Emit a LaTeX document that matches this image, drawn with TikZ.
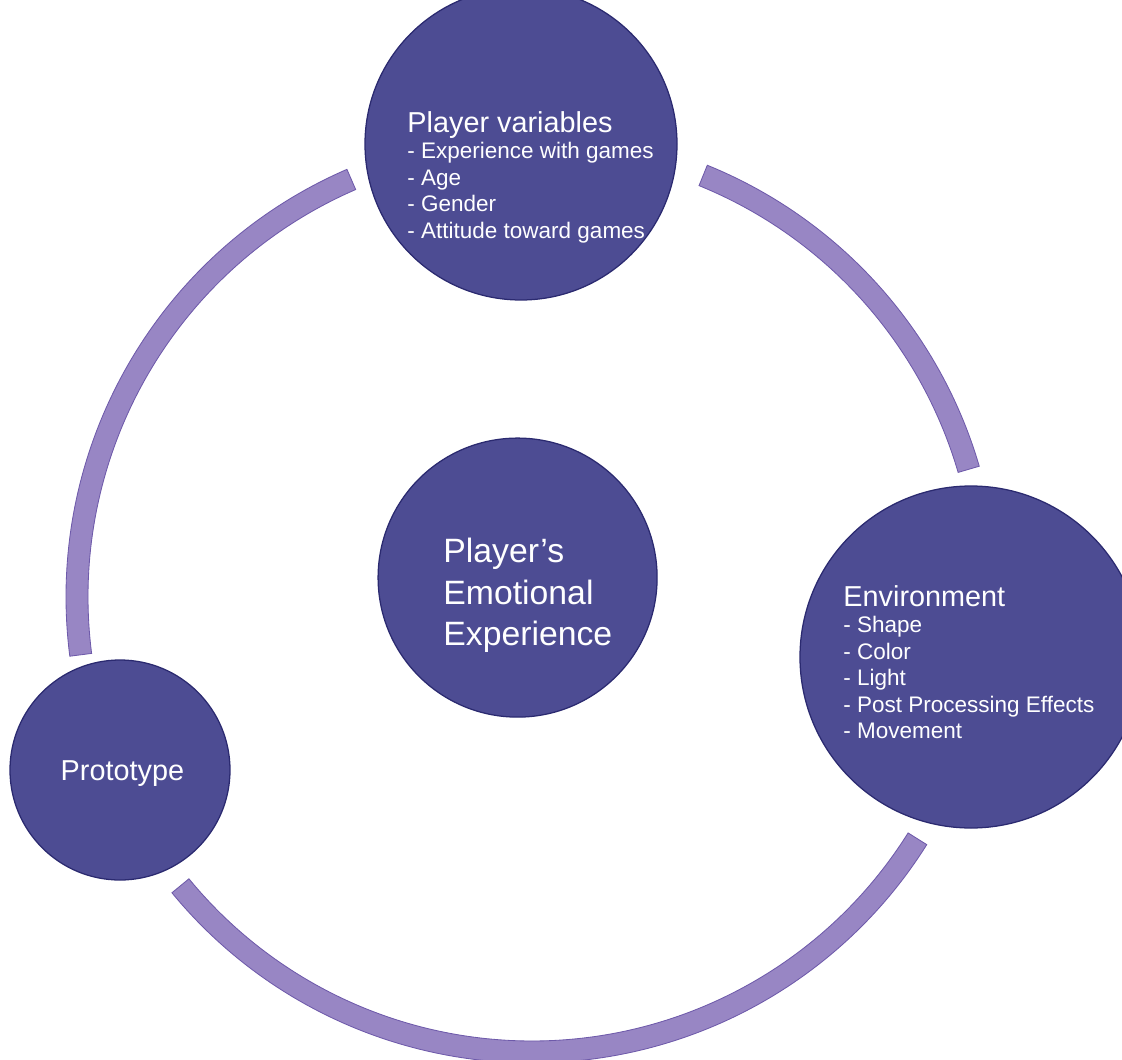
\documentclass[tikz,border=0pt]{standalone}
\usepackage{fontspec}
\setmainfont{Liberation Sans}
\usetikzlibrary{calc}
\definecolor{bubblefill}{HTML}{4D4C93}
\definecolor{bubbleline}{HTML}{2B2A70}
\definecolor{ringfill}{HTML}{9886C4}
\definecolor{ringline}{HTML}{6E5AAA}
\newcommand{\bubblehead}{\fontsize{20.5}{18.8}\selectfont}
\tikzset{
    bubble/.style={circle, fill=bubblefill, draw=bubbleline, line width=0.9pt, inner sep=0pt},
    bubbletext/.style={text=white, inner sep=0pt, align=left, font=\fontsize{16}{18.8}\selectfont},
    ringseg/.style={fill=ringfill, draw=ringline, line width=0.6pt}
}

\begin{document}
\begin{tikzpicture}
        \clip (0,0) rectangle (28.05,-26.5);
        % Anello
        \coordinate (ring) at (13.3,-14.925);
        \foreach \a/\b in {113.4/187.3, 219.4/327.9, 16.3/67.9}
            \draw[ringseg] ($(ring)+(\a:11.65)$) arc[start angle=\a, end angle=\b, radius=11.65]
                -- ($(ring)+(\b:11.1)$) arc[start angle=\b, end angle=\a, radius=11.1] -- cycle;
        % Cerchi
        \node[bubble, minimum size=7.8cm] (players) at (13.025,-3.6) {};
        \node[bubble, minimum size=6.975cm] (emotion) at (12.94,-14.44) {};
        \node[bubble, minimum size=8.55cm] (environment) at (24.275,-16.425) {};
        \node[bubble, minimum size=5.5cm] (prototype) at (3.0,-19.25) {};
        % Testi
        \node[bubbletext, anchor=north west] (playerstext) at (10.18,-2.78)
            {{\bubblehead Player variables}\\- Experience with games\\- Age\\- Gender\\- Attitude toward games};
        \node[bubbletext, anchor=north west, font=\fontsize{24}{29.6}\selectfont] (emotiontext) at (11.08,-13.45)
            {Player's\\Emotional\\Experience};
        \node[bubbletext, anchor=north west] (envtext) at (21.08,-14.63)
            {{\bubblehead Environment}\\- Shape\\- Color\\- Light\\- Post Processing Effects\\- Movement};
        \node[bubbletext, anchor=base, font=\bubblehead] (prototext) at (3.06,-19.5) {Prototype};
\end{tikzpicture}
\end{document}
